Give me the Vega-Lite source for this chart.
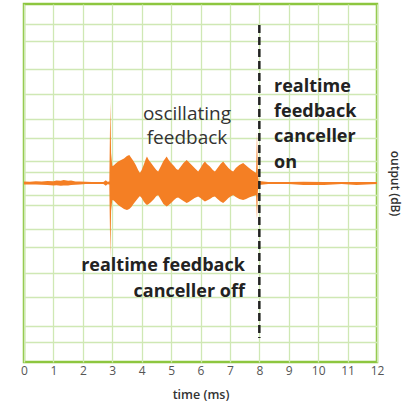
{
  "$schema": "https://vega.github.io/schema/vega-lite/v6.json",
  "width": 353,
  "height": 358,
  "autosize": "none",
  "padding": {"left": 24, "top": 4, "right": 30, "bottom": 40},
  "config": {
    "view": {"stroke": "#8dc63f", "strokeWidth": 2.5},
    "font": "Open Sans"
  },
  "datasets": {
    "wave": [
      {"t": 0, "v": 1.5, "v2": -1.5},
      {"t": 0.2, "v": 1.2, "v2": -1.6},
      {"t": 0.4, "v": 1.8, "v2": -1.5},
      {"t": 0.6, "v": 1.4, "v2": -1.8},
      {"t": 0.8, "v": 2, "v2": -2},
      {"t": 1.0, "v": 1.8, "v2": -2.4},
      {"t": 1.1, "v": 2.5, "v2": -2.2},
      {"t": 1.25, "v": 2.2, "v2": -2.8},
      {"t": 1.35, "v": 3, "v2": -2.5},
      {"t": 1.5, "v": 2.2, "v2": -2.6},
      {"t": 1.6, "v": 2.5, "v2": -2},
      {"t": 1.75, "v": 1.6, "v2": -1.8},
      {"t": 1.9, "v": 1.5, "v2": -1.5},
      {"t": 2.1, "v": 1.2, "v2": -1.1},
      {"t": 2.3, "v": 1, "v2": -1},
      {"t": 2.5, "v": 1.1, "v2": -1},
      {"t": 2.7, "v": 1, "v2": -1},
      {"t": 2.78, "v": 2.8, "v2": -2.8},
      {"t": 2.84, "v": 1.2, "v2": -1.2},
      {"t": 2.9, "v": 1.5, "v2": -1.5},
      {"t": 2.935, "v": 81, "v2": -75},
      {"t": 2.96, "v": 30, "v2": -28},
      {"t": 3.0, "v": 17, "v2": -17},
      {"t": 3.05, "v": 17.5, "v2": -17.5},
      {"t": 3.1, "v": 19, "v2": -19},
      {"t": 3.2, "v": 21.5, "v2": -22},
      {"t": 3.3, "v": 23, "v2": -24},
      {"t": 3.4, "v": 24.5, "v2": -26},
      {"t": 3.5, "v": 27, "v2": -27},
      {"t": 3.58, "v": 28, "v2": -26},
      {"t": 3.65, "v": 25, "v2": -24},
      {"t": 3.72, "v": 22, "v2": -21},
      {"t": 3.8, "v": 18, "v2": -18},
      {"t": 3.88, "v": 13, "v2": -15},
      {"t": 3.94, "v": 10, "v2": -13},
      {"t": 4.0, "v": 13, "v2": -15},
      {"t": 4.08, "v": 19, "v2": -19},
      {"t": 4.14, "v": 24, "v2": -21},
      {"t": 4.18, "v": 26.5, "v2": -22},
      {"t": 4.24, "v": 23, "v2": -21},
      {"t": 4.32, "v": 20, "v2": -19},
      {"t": 4.42, "v": 16, "v2": -16},
      {"t": 4.5, "v": 13, "v2": -13},
      {"t": 4.56, "v": 11.5, "v2": -12},
      {"t": 4.64, "v": 16, "v2": -16},
      {"t": 4.74, "v": 22, "v2": -21},
      {"t": 4.85, "v": 26.5, "v2": -23.5},
      {"t": 4.92, "v": 23, "v2": -22},
      {"t": 5.0, "v": 20, "v2": -20},
      {"t": 5.1, "v": 17, "v2": -17},
      {"t": 5.18, "v": 14, "v2": -15},
      {"t": 5.24, "v": 13, "v2": -14.5},
      {"t": 5.32, "v": 16, "v2": -16},
      {"t": 5.42, "v": 20, "v2": -18},
      {"t": 5.53, "v": 23, "v2": -20},
      {"t": 5.6, "v": 21, "v2": -19},
      {"t": 5.7, "v": 18, "v2": -17},
      {"t": 5.8, "v": 15, "v2": -15},
      {"t": 5.92, "v": 11.5, "v2": -13.5},
      {"t": 6.0, "v": 15, "v2": -15},
      {"t": 6.08, "v": 19, "v2": -17},
      {"t": 6.15, "v": 21.5, "v2": -18.5},
      {"t": 6.22, "v": 19, "v2": -17.5},
      {"t": 6.32, "v": 16.5, "v2": -16},
      {"t": 6.42, "v": 13, "v2": -14},
      {"t": 6.49, "v": 11.5, "v2": -13.5},
      {"t": 6.58, "v": 15, "v2": -16},
      {"t": 6.68, "v": 19, "v2": -18.5},
      {"t": 6.77, "v": 21.5, "v2": -20},
      {"t": 6.85, "v": 18.5, "v2": -18},
      {"t": 6.95, "v": 15, "v2": -15},
      {"t": 7.05, "v": 12.5, "v2": -13},
      {"t": 7.11, "v": 11.5, "v2": -12},
      {"t": 7.2, "v": 15, "v2": -14},
      {"t": 7.32, "v": 18, "v2": -16},
      {"t": 7.45, "v": 20, "v2": -17},
      {"t": 7.55, "v": 17.5, "v2": -16},
      {"t": 7.65, "v": 15, "v2": -14.5},
      {"t": 7.74, "v": 13, "v2": -13.5},
      {"t": 7.84, "v": 11, "v2": -12.5},
      {"t": 7.89, "v": 10, "v2": -12},
      {"t": 7.92, "v": 50, "v2": -37},
      {"t": 7.95, "v": 8, "v2": -8},
      {"t": 7.98, "v": 2, "v2": -2},
      {"t": 8.3, "v": 1, "v2": -1},
      {"t": 9.0, "v": 1, "v2": -1},
      {"t": 9.5, "v": 1.2, "v2": -2},
      {"t": 10.2, "v": 1, "v2": -2},
      {"t": 10.8, "v": 1, "v2": -1},
      {"t": 11.3, "v": 1, "v2": -2},
      {"t": 12, "v": 1, "v2": -1}
    ],
    "dash": [{"t": 8, "v": 158, "v2": -155}],
    "osc": [
      {"t": 5.54, "v": 69, "txt": "oscillating"},
      {"t": 5.54, "v": 45, "txt": "feedback"}
    ],
    "on": [
      {"t": 8.5, "v": 96, "txt": "realtime"},
      {"t": 8.5, "v": 71, "txt": "feedback"},
      {"t": 8.5, "v": 46, "txt": "canceller"},
      {"t": 8.5, "v": 20, "txt": "on"}
    ],
    "off": [
      {"t": 7.51, "v": -83, "txt": "realtime feedback"},
      {"t": 7.51, "v": -109, "txt": "canceller off"}
    ]
  },
  "encoding": {
    "x": {
      "field": "t", "type": "quantitative",
      "scale": {"domain": [0, 12], "nice": false},
      "axis": {
        "values": [0, 1, 2, 3, 4, 5, 6, 7, 8, 9, 10, 11, 12],
        "format": "d",
        "grid": true, "gridColor": "#cfe8b4", "gridWidth": 1.3,
        "ticks": false, "domain": false,
        "labelColor": "#555555", "labelFontSize": 12, "labelPadding": 3,
        "labelFlush": false, "labelOverlap": false,
        "title": "time (ms)", "titleFontSize": 12.5, "titleColor": "#333333",
        "titleFontWeight": 600, "titlePadding": 12
      }
    },
    "y": {
      "field": "v", "type": "quantitative",
      "scale": {"domain": [-179, 179], "nice": false},
      "axis": {
        "orient": "right",
        "values": [-159.2, -142.5, -113.7, -89.5, -63.5, -45.5, -22.3, -11.5, 11.5, 22.3, 45.5, 63.5, 89.5, 113.7, 142.5, 159.2],
        "grid": true, "gridColor": "#cfe8b4", "gridWidth": 1.3,
        "ticks": false, "domain": false, "labels": false,
        "title": "output (dB)", "titleFontSize": 12, "titleColor": "#333333",
        "titleFontWeight": 600, "titlePadding": 10
      }
    }
  },
  "layer": [
    {
      "data": {"name": "wave"},
      "mark": {"type": "area", "color": "#f47f24", "opacity": 1},
      "encoding": {"y2": {"field": "v2"}}
    },
    {
      "data": {"name": "dash"},
      "mark": {"type": "rule", "color": "#222222", "strokeWidth": 2.5, "strokeDash": [8, 4]},
      "encoding": {"y2": {"field": "v2"}}
    },
    {
      "data": {"name": "osc"},
      "mark": {"type": "text", "align": "center", "baseline": "middle", "fontSize": 19, "color": "#333333"},
      "encoding": {"text": {"field": "txt"}}
    },
    {
      "data": {"name": "on"},
      "mark": {"type": "text", "align": "left", "baseline": "middle", "fontSize": 18, "fontWeight": "bold", "color": "#222222"},
      "encoding": {"text": {"field": "txt"}}
    },
    {
      "data": {"name": "off"},
      "mark": {"type": "text", "align": "right", "baseline": "middle", "fontSize": 18, "fontWeight": "bold", "color": "#222222"},
      "encoding": {"text": {"field": "txt"}}
    }
  ]
}
